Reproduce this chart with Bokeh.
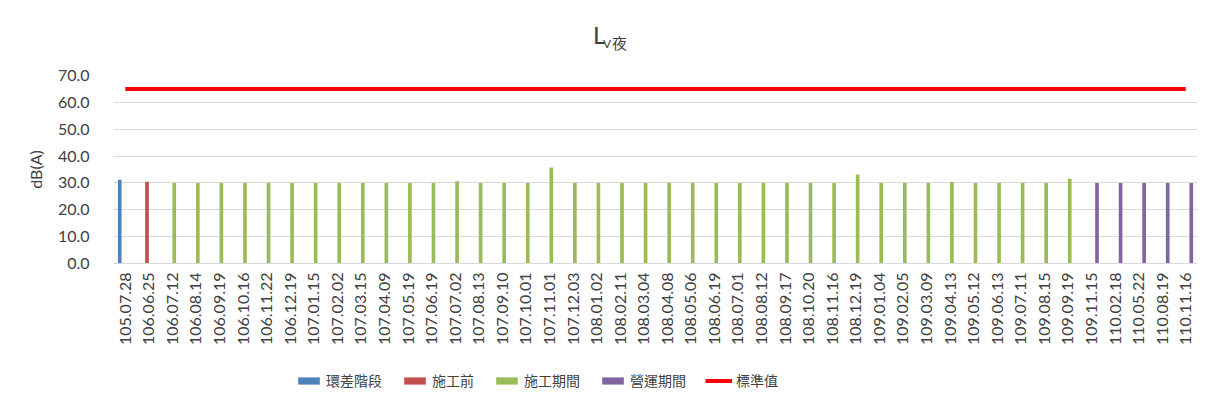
import math
from bokeh.plotting import figure
from bokeh.layouts import column
from bokeh.models import (ColumnDataSource, FactorRange, Range1d, Legend, LegendItem,
                          Div, SingleIntervalTicker, NumeralTickFormatter)
from bokeh.transform import dodge
from bokeh.embed import file_html
from bokeh.resources import INLINE

# ---------------- data ----------------
categories = [
    "105.07.28", "106.06.25", "106.07.12", "106.08.14", "106.09.19", "106.10.16",
    "106.11.22", "106.12.19", "107.01.15", "107.02.02", "107.03.15", "107.04.09",
    "107.05.19", "107.06.19", "107.07.02", "107.08.13", "107.09.10", "107.10.01",
    "107.11.01", "107.12.03", "108.01.02", "108.02.11", "108.03.04", "108.04.08",
    "108.05.06", "108.06.19", "108.07.01", "108.08.12", "108.09.17", "108.10.20",
    "108.11.16", "108.12.19", "109.01.04", "109.02.05", "109.03.09", "109.04.13",
    "109.05.12", "109.06.13", "109.07.11", "109.08.15", "109.09.19", "109.11.15",
    "110.02.18", "110.05.22", "110.08.19", "110.11.16",
]

env_diff_dates = ["105.07.28"]
env_diff_values = [31.2]

pre_dates = ["106.06.25"]
pre_values = [30.4]

construction_dates = categories[2:41]
construction_values = [
    30.0, 30.0, 30.0, 30.0, 30.0, 30.0,                    # 106
    30.0, 30.0, 30.0, 30.0, 30.0, 30.0,                    # 107.01-107.06
    30.6, 30.0, 30.0, 30.0, 35.7, 30.0,                    # 107.07-107.12
    30.0, 30.0, 30.0, 30.0, 30.0, 30.0,                    # 108.01-108.06
    30.0, 30.0, 30.0, 30.0, 30.0, 33.1,                    # 108.07-108.12
    30.0, 30.0, 30.0, 30.3, 30.0, 30.0, 30.0, 30.0, 31.6,  # 109
]

operation_dates = ["109.11.15", "110.02.18", "110.05.22", "110.08.19", "110.11.16"]
operation_values = [30.0, 30.0, 30.0, 30.0, 30.0]

standard_value = 65.0
standard_values = [standard_value for _ in categories]

series_names = ["環差階段", "施工前", "施工期間", "營運期間"]
series_colors = ["#4F81BD", "#C0504D", "#9BBB59", "#8064A2"]
standard_name = "標準值"
standard_color = "#FF0000"

title_main = "L"
title_sub_latin = "V"
title_sub_cjk = "夜"

# ---------------- layout ----------------
TEXT = "#404040"
TOTAL_W, TOTAL_H = 1199, 391
TITLE_H = 55
CHART_BOTTOM = 355           # where the main figure ends
LEGEND_H = TOTAL_H - CHART_BOTTOM

title_html = (
    f'<div style="position:relative;width:{TOTAL_W}px;height:{TITLE_H}px;color:{TEXT};">'
    f'<span style="position:absolute;left:593px;top:23px;font-family:Lato;'
    f'font-size:24px;line-height:24px;white-space:nowrap;">{title_main}</span>'
    f'<span style="position:absolute;left:603px;top:38px;font-family:Lato;'
    f'font-size:12px;line-height:12px;white-space:nowrap;">{title_sub_latin}</span>'
    f'<span style="position:absolute;left:612px;top:35px;font-family:\'Noto Sans CJK TC\';'
    f'font-size:15px;line-height:15px;white-space:nowrap;">{title_sub_cjk}</span>'
    f'</div>'
)
title_div = Div(text=title_html, width=TOTAL_W, height=TITLE_H, margin=0)

p = figure(
    width=TOTAL_W, height=CHART_BOTTOM - TITLE_H,
    x_range=FactorRange(*categories, range_padding=0),
    y_range=Range1d(0, 70),
    output_backend="svg", toolbar_location=None,
    min_border_left=113, min_border_right=2,
    min_border_top=75 - TITLE_H, min_border_bottom=CHART_BOTTOM - 263,
    margin=0,
)
p.outline_line_color = None

# legend strip: shares the x range, y range lies far above the data so nothing shows
pl = figure(width=TOTAL_W, height=LEGEND_H, output_backend="svg", toolbar_location=None,
            x_axis_location=None, y_axis_location=None,
            x_range=p.x_range, y_range=Range1d(1000, 1001),
            min_border_left=113, min_border_right=2, min_border_top=0, min_border_bottom=0,
            margin=0)
pl.outline_line_color = None
pl.xgrid.grid_line_color = None
pl.ygrid.grid_line_color = None

series = [
    (env_diff_dates, env_diff_values),
    (pre_dates, pre_values),
    (construction_dates, construction_values),
    (operation_dates, operation_values),
]
step = 0.157
offsets = [-1.5 * step, -0.5 * step, 0.5 * step, 1.5 * step]
leg_renderers = []
for (dates, vals), off, col in zip(series, offsets, series_colors):
    src = ColumnDataSource(dict(x=dates, top=vals))
    kw = dict(x=dodge("x", off, range=p.x_range), top="top", bottom=0,
              width=0.155, source=src, fill_color=col, line_color=None)
    p.vbar(**kw)
    leg_renderers.append(pl.vbar(**kw))

std_src = ColumnDataSource(dict(x=categories, y=standard_values))
p.line(x="x", y="y", source=std_src, line_color=standard_color, line_width=4)
leg_std = pl.line(x="x", y="y", source=std_src, line_color=standard_color, line_width=4)

# axes
p.yaxis.ticker = SingleIntervalTicker(interval=10)
p.yaxis.formatter = NumeralTickFormatter(format="0.0")
p.yaxis.axis_line_color = None
p.yaxis.major_tick_line_color = None
p.yaxis.minor_tick_line_color = None
p.yaxis.major_tick_out = 0
p.yaxis.major_tick_in = 0
p.yaxis.major_label_text_font = "Lato"
p.yaxis.major_label_text_font_size = "16px"
p.yaxis.major_label_text_color = TEXT
p.yaxis.major_label_standoff = 20
p.yaxis.axis_label = "dB(A)"
p.yaxis.axis_label_text_font = "Lato"
p.yaxis.axis_label_text_font_size = "16px"
p.yaxis.axis_label_text_font_style = "normal"
p.yaxis.axis_label_text_color = TEXT
p.yaxis.axis_label_standoff = 10

p.xaxis.axis_line_color = "#D9D9D9"
p.xaxis.major_tick_line_color = None
p.xaxis.minor_tick_line_color = None
p.xaxis.major_tick_out = 0
p.xaxis.major_tick_in = 0
p.xaxis.major_label_orientation = math.pi / 2
p.xaxis.major_label_text_font = "Lato"
p.xaxis.major_label_text_font_size = "16px"
p.xaxis.major_label_text_color = TEXT
p.xaxis.major_label_standoff = 9

p.xgrid.grid_line_color = None
p.ygrid.grid_line_color = "#D9D9D9"
p.ygrid.grid_line_width = 1

items = [LegendItem(label=n, renderers=[r]) for n, r in zip(series_names, leg_renderers)]
items.append(LegendItem(label=standard_name, renderers=[leg_std]))
legend = Legend(items=items, orientation="horizontal", location=(182, 1),
                glyph_width=27, glyph_height=9, label_standoff=4, spacing=19,
                label_text_font="Noto Sans CJK TC", label_text_font_size="14px",
                label_text_color=TEXT, label_height=16, padding=0, margin=0,
                border_line_color=None, background_fill_alpha=0)
pl.add_layout(legend, "center")

layout = column(title_div, p, pl, spacing=0, margin=0)
open("out.html", "w").write(file_html(layout, INLINE))
